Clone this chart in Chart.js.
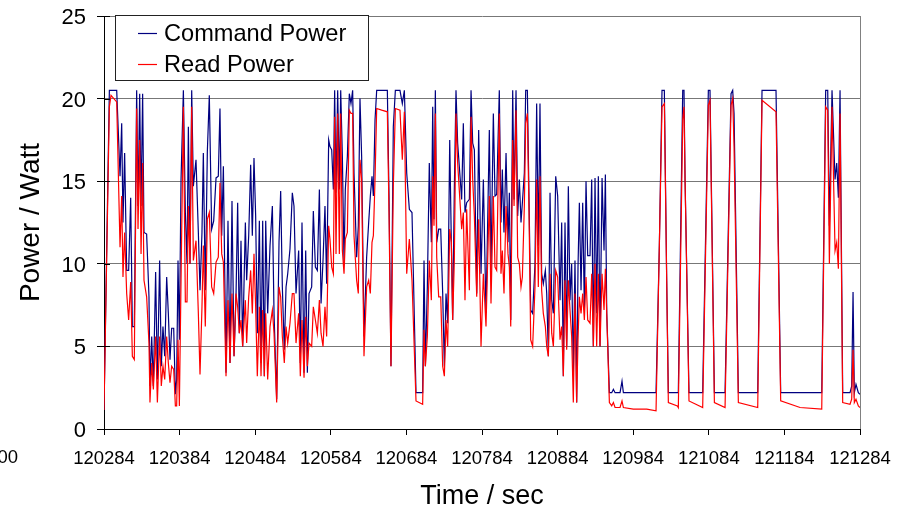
<!DOCTYPE html>
<html><head><meta charset="utf-8">
<script src="https://cdn.jsdelivr.net/npm/chart.js@4/dist/chart.umd.min.js"></script>
<style>html,body{margin:0;padding:0;background:#fff;}canvas{display:block;}</style>
</head><body>
<canvas id="c" width="905" height="512"></canvas>
<script>
const times = [
120284.0,120291.1,120293.3,120300.8,120305.2,120307.4,120309.1,120311.3,120314.0,120316.6,
120319.3,120321.5,120324.1,120327.2,120329.0,120331.2,120333.0,120335.1,120336.9,120340.4,
120343.5,120344.8,120347.1,120349.3,120352.3,120354.6,120357.6,120359.8,120362.0,120364.3,
120366.9,120369.1,120371.3,120373.5,120376.2,120378.4,120380.1,120381.9,120383.7,120385.9,
120389.0,120391.6,120393.8,120395.6,120397.8,120400.0,120402.2,120405.7,120408.8,120411.0,
120413.6,120415.4,120418.0,120420.7,120423.3,120426.4,120429.1,120432.2,120435.2,120437.4,
120439.7,120441.9,120445.4,120448.0,120450.7,120453.3,120456.0,120458.6,120460.8,120463.0,
120465.2,120467.4,120471.0,120472.7,120475.4,120478.0,120480.2,120482.4,120484.6,120486.8,
120489.5,120491.7,120493.9,120496.1,120497.9,120500.5,120503.6,120506.7,120508.9,120512.4,
120515.5,120517.7,120519.9,120522.5,120524.8,120527.0,120530.0,120533.1,120535.3,120538.0,
120541.5,120543.7,120545.9,120548.6,120550.8,120553.0,120555.2,120558.7,120560.9,120563.6,
120566.2,120568.9,120571.1,120573.7,120576.3,120578.5,120581.2,120582.9,120585.2,120587.4,
120589.1,120590.9,120593.1,120595.3,120597.1,120599.3,120601.5,120603.2,120605.9,120608.5,
120610.7,120612.9,120614.7,120618.2,120620.4,120622.6,120624.8,120627.9,120631.4,120634.1,
120636.3,120638.5,120640.3,120642.5,120644.7,120651.3,120658.8,120661.0,120663.6,120666.7,
120669.4,120675.5,120678.6,120681.3,120684.4,120687.9,120691.4,120696.7,120705.5,120707.3,
120709.1,120711.7,120714.3,120717.0,120718.8,120720.5,120722.3,120724.1,120726.7,120729.4,
120732.0,120734.2,120736.4,120738.6,120741.3,120743.5,120745.2,120747.4,120749.6,120751.8,
120757.1,120759.3,120761.5,120763.7,120767.3,120769.5,120771.7,120773.9,120777.0,120779.6,
120782.7,120785.8,120789.3,
120793.7,120795.9,120799.0,120801.2,120803.4,120806.9,120809.1,
120810.9,120813.1,120815.8,120818.4,120820.2,120822.0,120824.6,120826.4,120829.0,120831.2,
120833.4,120835.6,120837.4,120840.0,120841.8,120844.0,120846.2,120848.4,120851.0,120854.1,
120856.3,120858.5,120860.7,120862.9,120865.1,120867.8,120869.6,120871.8,120874.0,120876.2,
120878.4,120881.5,120884.1,120887.2,120889.4,120891.6,120893.8,120896.0,120898.2,120900.4,
120902.6,120904.8,120907.0,120909.2,120911.0,120912.8,120915.0,120917.2,120919.4,120921.6,
120923.8,120926.9,120929.1,120931.3,120933.5,120935.7,120937.9,120940.1,120942.8,120945.4,
120947.2,120949.0,120952.5,120955.6,120957.8,120960.0,120966.6,120969.2,120971.0,120984.2,
121001.9,121014.2,121018.6,121022.1,121025.2,121028.3,121030.5,121042.4,121043.7,121049.5,
121051.2,121052.6,121057.8,121075.9,121083.4,121085.6,121091.4,121105.5,121113.4,121115.6,
121117.4,121123.1,121148.7,121154.4,121172.9,121179.1,121204.7,121233.4,121238.6,121241.3,
121243.5,121247.0,121251.0,121253.2,121255.4,121257.6,121261.1,121270.8,121273.0,121274.8,
121276.5,121278.7,121281.8,121284.0
];

const commandPower = [
1.15,20.5,20.5,20.5,15.3,18.5,12.5,16.7,9.6,9.6,
14.0,6.2,6.2,20.5,13.5,20.3,13.5,20.3,11.9,11.8,
8.0,2.6,5.6,2.6,9.5,3.0,10.2,3.8,6.2,4.4,
9.2,7.0,4.2,6.1,6.1,2.1,3.0,10.2,5.4,15.1,
20.5,13.1,10.0,18.3,10.0,20.5,14.7,16.3,11.9,8.4,
11.9,16.7,8.4,16.8,20.2,12.1,12.6,15.2,15.3,19.4,
11.7,15.9,3.4,12.6,4.0,13.8,4.4,8.0,13.7,5.8,
11.4,5.0,12.5,9.0,11.7,16.0,11.7,16.4,12.9,5.8,
12.6,4.0,12.6,3.2,12.6,7.0,11.1,13.5,7.0,1.8,
11.3,14.4,8.6,4.8,8.6,9.4,10.9,14.3,13.5,8.2,
10.8,4.0,12.5,3.4,10.8,3.4,8.2,8.6,13.2,9.8,
9.6,14.5,7.6,10.2,13.5,8.8,17.5,17.1,16.9,14.5,
20.5,14.3,20.5,14.5,20.5,16.5,10.0,14.5,16.5,20.3,
19.7,20.5,15.5,10.4,12.3,20.0,16.5,5.6,10.4,12.5,
14.1,15.3,14.1,18.7,20.5,20.5,20.5,14.1,3.8,18.3,
20.5,20.5,19.7,20.5,15.5,13.3,13.1,2.2,2.2,10.2,
3.8,8.6,16.1,11.3,19.5,12.7,20.5,11.3,12.1,12.1,
8.2,3.8,8.2,6.4,17.5,11.1,6.6,14.5,20.5,17.3,
13.9,18.5,13.1,13.7,13.9,20.5,17.3,16.9,8.2,18.1,
9.4,15.1,7.0,
18.1,9.6,19.1,14.1,14.2,20.5,12.5,
15.7,11.9,16.7,11.3,14.3,6.6,20.5,13.9,20.5,12.9,
15.1,12.5,13.7,15.5,20.5,20.5,13.9,7.2,7.0,10.0,
19.7,11.1,19.7,9.4,8.8,9.6,8.2,4.4,14.3,7.8,
7.0,15.3,14.1,7.8,12.5,3.2,12.5,5.0,14.7,7.8,
10.0,3.4,10.2,1.6,9.8,13.7,8.4,13.7,7.2,15.0,
10.5,10.5,15.1,5.0,15.2,7.0,15.3,5.0,15.2,10.8,
15.4,7.0,2.2,2.2,2.4,2.2,2.2,2.9,2.2,2.2,
2.2,2.2,11.1,20.5,20.5,9.0,2.2,2.2,2.2,20.5,
20.5,15.1,2.2,2.2,20.5,20.5,2.2,2.2,20.3,20.5,
19.1,2.2,2.2,20.5,20.5,2.2,2.2,2.2,20.5,20.5,
12.3,20.5,15.1,16.1,14.0,20.5,2.2,2.2,2.6,8.3,
2.2,2.7,2.2,2.1
];

const readPower = [
1.15,19.5,20.2,19.8,11.0,14.1,9.2,11.9,8.2,6.6,
8.9,4.4,4.2,19.4,12.1,17.5,10.6,16.1,9.0,8.0,
5.2,1.6,4.0,2.4,5.6,1.6,5.6,2.6,3.8,3.0,
5.6,4.0,2.8,3.8,3.6,1.4,1.4,5.4,1.4,9.0,
19.5,7.7,7.7,13.5,10.0,19.5,10.2,11.4,7.0,3.3,
7.4,11.1,6.2,12.7,13.1,8.6,8.2,10.1,10.4,14.9,
10.6,10.1,3.2,7.8,4.0,8.2,4.4,8.2,7.4,5.8,
6.6,5.0,7.8,5.2,8.0,9.6,7.0,10.6,7.4,3.2,
7.4,3.2,7.2,3.2,7.0,3.0,6.2,7.2,5.8,1.6,
8.6,8.0,5.6,4.0,6.2,5.2,6.4,8.2,8.2,5.2,
7.0,3.2,6.6,3.1,6.8,3.8,5.2,5.0,7.4,6.6,
5.8,7.8,5.8,5.0,7.4,5.6,12.3,11.5,9.8,9.4,
18.9,10.6,19.1,10.6,19.1,10.8,9.4,11.5,11.9,19.3,
19.1,19.1,11.7,9.0,8.2,16.3,15.1,4.4,8.6,9.0,
8.2,11.3,11.7,15.1,19.4,19.3,19.2,13.1,3.8,14.7,
19.4,19.3,16.3,19.2,9.4,11.5,9.0,1.7,1.5,6.0,
3.8,5.6,10.2,7.8,15.3,12.3,19.1,10.4,8.0,8.0,
3.8,3.2,6.6,5.0,12.1,11.3,6.6,10.2,19.1,16.1,
12.1,13.1,7.8,13.3,8.4,18.9,15.1,12.9,8.0,12.7,
5.0,9.4,6.2,
14.1,7.6,14.1,9.8,9.6,19.1,9.4,
10.8,8.2,13.5,10.6,9.8,6.2,17.5,13.5,19.3,10.4,
10.0,8.6,9.2,13.5,18.5,19.1,13.1,5.4,5.0,8.6,
15.1,8.6,15.3,8.4,7.0,6.2,5.0,4.4,9.4,5.8,
5.0,9.6,9.2,5.4,6.2,3.2,9.0,4.8,9.0,7.2,
5.6,1.6,8.2,1.6,5.4,8.0,7.0,8.2,6.6,9.2,
6.6,6.4,9.4,5.0,10.0,5.0,9.4,5.0,9.4,7.2,
9.7,7.0,1.6,1.4,1.6,1.3,1.3,1.7,1.3,1.2,
1.2,1.1,11.1,19.5,19.7,9.0,1.6,1.4,1.3,18.7,
19.5,15.1,1.7,1.3,19.6,19.9,1.6,1.3,19.6,20.0,
17.1,1.6,1.3,19.9,19.2,1.7,1.3,1.2,19.5,19.3,
10.0,19.5,10.8,11.3,9.7,19.1,1.6,1.5,1.8,4.8,
1.6,1.8,1.4,1.3
];

const xTickValues = [120284,120384,120484,120584,120684,120784,120884,120984,121084,121184,121284];
const yTickValues = [0,5,10,15,20,25];
const seriesNames = ['Command Power','Read Power'];
const seriesColors = ['#000080','#ff0000'];
const FONT = "'Liberation Sans', Arial, sans-serif";

const toPoints = vals => times.map((t, i) => ({x: t, y: vals[i]}));

const boxLegend = {
  id: 'boxLegend',
  afterDraw(chart) {
    const {ctx, chartArea} = chart;
    const yScale = chart.scales.y;
    ctx.save();
    // inner half of the crossing y-axis tick marks
    ctx.strokeStyle = '#000';
    ctx.lineWidth = 1;
    yScale.ticks.forEach(t => {
      const py = Math.round(yScale.getPixelForValue(t.value)) + 0.5;
      ctx.beginPath();
      ctx.moveTo(chartArea.left, py);
      ctx.lineTo(chartArea.left + 6, py);
      ctx.stroke();
    });
    const bx = chartArea.left + 11.5, by = chartArea.top - 0.5, bw = 253, bh = 65;
    ctx.fillStyle = '#fff';
    ctx.fillRect(bx, by, bw, bh);
    ctx.strokeStyle = '#222';
    ctx.lineWidth = 1;
    ctx.strokeRect(bx, by, bw, bh);
    chart.data.datasets.forEach((ds, i) => {
      const cy = chartArea.top + 17.5 + i * 31;
      ctx.strokeStyle = ds.borderColor;
      ctx.lineWidth = 1.2;
      ctx.beginPath();
      ctx.moveTo(chartArea.left + 34, cy);
      ctx.lineTo(chartArea.left + 53, cy);
      ctx.stroke();
      ctx.fillStyle = '#000';
      ctx.font = '23.6px ' + FONT;
      ctx.textBaseline = 'middle';
      ctx.textAlign = 'left';
      ctx.fillText(ds.label, chartArea.left + 60, cy + 0.5);
    });
    ctx.font = '18.5px ' + FONT;
    ctx.fillStyle = '#000';
    ctx.textAlign = 'right';
    ctx.textBaseline = 'middle';
    ctx.fillText('00', 18, 458);
    ctx.restore();
  }
};

new Chart(document.getElementById('c'), {
  type: 'line',
  data: {
    datasets: [
      {label: seriesNames[0], data: toPoints(commandPower), borderColor: seriesColors[0], backgroundColor: seriesColors[0],
       borderWidth: 1.2, pointRadius: 0, tension: 0, fill: false, order: 1},
      {label: seriesNames[1], data: toPoints(readPower), borderColor: seriesColors[1], backgroundColor: seriesColors[1],
       borderWidth: 1.2, pointRadius: 0, tension: 0, fill: false, order: 0}
    ]
  },
  options: {
    responsive: false,
    animation: false,
    devicePixelRatio: 1,
    layout: {padding: {top: 16, right: 45, left: 0, bottom: 0}},
    plugins: {legend: {display: false}, tooltip: {enabled: false}},
    scales: {
      x: {
        type: 'linear', min: 120284, max: 121284,
        afterBuildTicks: s => { s.ticks = xTickValues.map(v => ({value: v})); },
        afterFit: s => { s.height = 83; },
        ticks: {callback: v => String(v), color: '#000', font: {family: FONT, size: 18.5}, padding: 13, maxRotation: 0, autoSkip: false},
        grid: {color: c => (c.index === xTickValues.length - 1 ? '#808080' : 'rgba(0,0,0,0)'), tickColor: '#000', tickLength: 6, lineWidth: 1},
        border: {color: '#000', width: 1},
        title: {display: true, text: 'Time / sec', color: '#000', font: {family: FONT, size: 27, lineHeight: 1}, padding: {top: 0, bottom: 1.5}}
      },
      y: {
        min: 0, max: 25,
        afterBuildTicks: s => { s.ticks = yTickValues.map(v => ({value: v})); },
        afterFit: s => { s.width = 104; s.paddingTop = 12; s.paddingBottom = 12; },
        ticks: {color: '#000', font: {family: FONT, size: 22}, padding: 11, labelOffset: 2},
        grid: {color: '#777777', tickColor: '#000', tickLength: 7, lineWidth: 1},
        border: {color: '#000', width: 1},
        title: {display: true, text: 'Power / Watt', color: '#000', font: {family: FONT, size: 28, lineHeight: 1}, padding: {top: 17.5, bottom: 0}}
      }
    }
  },
  plugins: [boxLegend]
});
</script>
</body></html>
